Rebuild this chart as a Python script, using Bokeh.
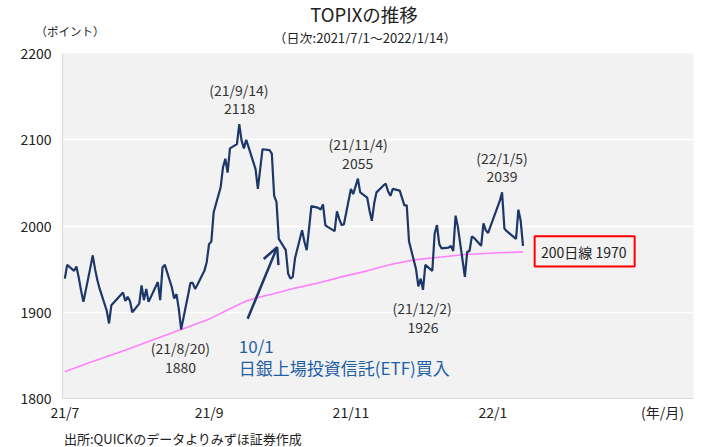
import pandas as pd
from bokeh.plotting import figure
from bokeh.layouts import column
from bokeh.models import (Range1d, FixedTicker, Label, Arrow, OpenHead, BoxAnnotation,
                          ColumnDataSource, Div)
from bokeh.embed import file_html
from bokeh.resources import INLINE

FONT = "Noto Sans CJK JP"

# ---- data -------------------------------------------------------------
START = pd.Timestamp("2021-07-01")
END = pd.Timestamp("2022-01-14")
holidays = ["2021-07-22", "2021-07-23", "2021-08-09", "2021-09-20", "2021-09-23",
            "2021-11-03", "2021-11-23", "2021-12-31", "2022-01-03", "2022-01-10"]

topix_jul = [1939, 1955, 1948, 1953, 1940, 1925, 1912, 1952, 1966, 1950,
             1937, 1927, 1902, 1887, 1908, 1923, 1913, 1918, 1913, 1900]
topix_aug = [1910, 1931, 1914, 1927, 1912, 1935, 1914, 1952, 1955, 1929,
             1916, 1921, 1904, 1880, 1920, 1934, 1934, 1927, 1932, 1948, 1958]
topix_sep = [1979, 1982, 2016, 2045, 2068, 2078, 2062, 2090, 2095, 2118,
             2099, 2090, 2100, 2066, 2043, 2089, 2088, 2084, 2035, 2028]
topix_oct = [1985, 1972, 1945, 1939, 1941, 1963, 1995, 1982, 1972, 1997,
             2023, 2021, 2019, 2025, 2001, 1999, 1994, 2017, 2008, 2001, 2002]
topix_nov = [2043, 2037, 2055, 2039, 2033, 2018, 2006, 2026, 2039, 2047,
             2049, 2040, 2035, 2043, 2041, 2024, 2024, 1982, 1950, 1930]
topix_dec = [1939, 1926, 1955, 1948, 1991, 2001, 1979, 1974, 1975, 1977,
             1971, 2012, 1999, 1941, 1970, 1971, 1988, 1986, 1977, 2003, 1995, 1992]
topix_jan = [2029, 2039, 1997, 1994, 1985, 2019, 2006, 1977]

ma_dates = ["2021-07-01", "2021-07-12", "2021-07-26", "2021-08-06", "2021-08-20",
            "2021-09-01", "2021-09-10", "2021-09-17", "2021-09-22", "2021-10-01",
            "2021-10-08", "2021-10-18", "2021-10-28", "2021-11-08", "2021-11-19",
            "2021-11-29", "2021-12-10", "2021-12-20", "2022-01-04", "2022-01-14"]
ma_values = [1831, 1842, 1855, 1866, 1880, 1892, 1904, 1913, 1917, 1923,
             1928, 1934, 1941, 1948, 1956, 1961, 1964, 1967, 1969, 1970]

x_tick_dates = ["2021-07-01", "2021-09-01", "2021-11-01", "2022-01-01"]
x_tick_labels = ["21/7", "21/9", "21/11", "22/1"]
unit_label = "(年/月)"
unit_label_date = "2022-03-15"
y_ticks = [1800, 1900, 2000, 2100, 2200]

# ---- derived ------------------------------------------------------------
trade_dates = pd.bdate_range(START, END, freq="C", holidays=holidays)
topix = topix_jul + topix_aug + topix_sep + topix_oct + topix_nov + topix_dec + topix_jan
assert len(topix) == len(trade_dates), (len(topix), len(trade_dates))


def day(d):
    return (pd.Timestamp(d) - START).days


src = ColumnDataSource(dict(x=[day(d) for d in trade_dates], y=topix))
ma_src = ColumnDataSource(dict(x=[day(d) for d in ma_dates], y=ma_values))

W = 728
HEAD_H = 43
MAIN_TOP, FRAME_H, MAIN_BOTTOM = 10, 345, 22
MAIN_H = MAIN_TOP + FRAME_H + MAIN_BOTTOM
FOOT_H = 447 - HEAD_H - MAIN_H


def span(text, x, y, size, anchor="center", color="#222222"):
    tx = "-50%" if anchor == "center" else "0"
    return (f'<span style="position:absolute;left:{x}px;top:{y}px;'
            f'transform:translate({tx},-50%);font-size:{size};color:{color};'
            f'white-space:nowrap;line-height:1;">{text}</span>')


def text_div(h, spans):
    html = (f'<div style="position:relative;width:{W}px;height:{h}px;'
            f"font-family:'{FONT}',sans-serif;\">" + "".join(spans) + "</div>")
    return Div(text=html, width=W, height=h, margin=0)


# ---- header -------------------------------------------------------------
head = text_div(HEAD_H, [
    span("TOPIXの推移", 364, 14, "18.5px"),
    span("（日次:2021/7/1～2022/1/14）", 365, 36.5, "13px"),
    span("（ポイント）", 70, 32, "11.5px"),
])

# ---- main chart -----------------------------------------------------------
p = figure(width=W, height=MAIN_H, frame_width=631, frame_height=FRAME_H,
           min_border_left=62, min_border_right=35, min_border_top=MAIN_TOP,
           min_border_bottom=MAIN_BOTTOM,
           x_range=Range1d(-1.0, 270.3), y_range=Range1d(1800, 2200),
           output_backend="svg", toolbar_location=None)
p.background_fill_color = "#f2f2f2"
p.border_fill_color = "white"
p.outline_line_color = None

p.line("x", "y", source=ma_src, line_color="#ff80ff", line_width=1.6)
p.line("x", "y", source=src, line_color="#1c3768", line_width=2.2)

tick_pos = [day(d) for d in x_tick_dates] + [day(unit_label_date)]
p.xaxis.ticker = FixedTicker(ticks=tick_pos)
p.xaxis.major_label_overrides = {t: l for t, l in zip(tick_pos, x_tick_labels + [unit_label])}
p.yaxis.ticker = FixedTicker(ticks=y_ticks)
for ax in (p.xaxis[0], p.yaxis[0]):
    ax.major_tick_line_color = None
    ax.minor_tick_line_color = None
    ax.major_tick_out = 0
    ax.major_tick_in = 0
    ax.minor_tick_out = 0
    ax.axis_line_color = "#d9d9d9"
    ax.axis_line_width = 1
    ax.major_label_text_font = FONT
    ax.major_label_text_font_size = "14px"
    ax.major_label_text_color = "#222222"
p.xaxis.major_label_standoff = 3
p.yaxis.major_label_standoff = 11

p.xgrid.visible = False
p.ygrid.ticker = FixedTicker(ticks=[1900, 2000, 2100])
p.ygrid.grid_line_color = "white"
p.ygrid.grid_line_width = 1.5


def text_label(fig, text, x, y, size, align="center", color="#333333"):
    fig.add_layout(Label(x=x, y=y, text=text, text_font=FONT, text_font_size=size,
                         text_color=color, text_align=align, text_baseline="middle"))


# annotations (data units)
text_label(p, "(21/9/14)", 74.8, 2158, "14px")
text_label(p, "2118", 75.1, 2136, "14px")
text_label(p, "(21/11/4)", 126.1, 2095, "14px")
text_label(p, "2055", 125.9, 2073, "14px")
text_label(p, "(22/1/5)", 188.0, 2079, "14px")
text_label(p, "2039", 188.0, 2057, "14px")
text_label(p, "(21/8/20)", 49.7, 1859, "14px")
text_label(p, "1880", 49.7, 1836, "14px")
text_label(p, "(21/12/2)", 153.6, 1905, "14px")
text_label(p, "1926", 154.0, 1882, "14px")

blue = "#1f5fa8"
text_label(p, "10/1", 74.8, 1861, "17px", align="left", color=blue)
text_label(p, "日銀上場投資信託(ETF)買入", 74.8, 1836, "17px", align="left", color=blue)

p.add_layout(Arrow(x_start=78.6, y_start=1892.4, x_end=91.3, y_end=1975.4,
                   line_color="#1c3768", line_width=2.5,
                   end=OpenHead(size=16, line_color="#1c3768", line_width=2.5)))

p.add_layout(BoxAnnotation(left=202, right=245, bottom=1953, top=1988,
                           fill_alpha=0, line_color="#ff0000", line_alpha=1.0, line_width=2))
text_label(p, f"200日線 {ma_values[-1]}", 223.1, 1970, "14px", color="#222222")

# ---- footer ---------------------------------------------------------------
foot = text_div(FOOT_H, [
    span("出所:QUICKのデータよりみずほ証券作成", 64, 434 - HEAD_H - MAIN_H, "13px", anchor="left"),
])

layout = column(head, p, foot, spacing=0)
open("out.html", "w").write(file_html(layout, INLINE))
